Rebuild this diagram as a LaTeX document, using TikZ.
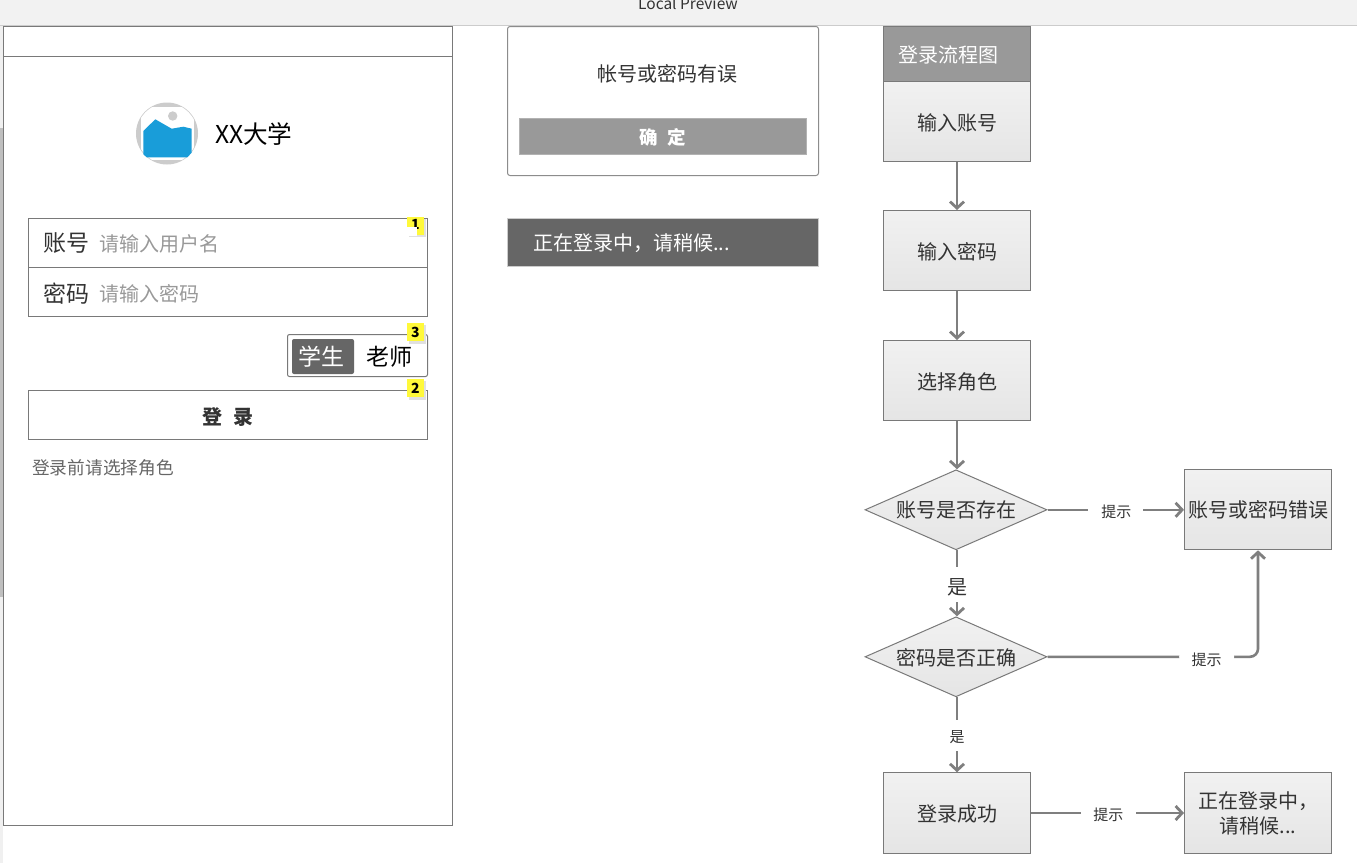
\documentclass[tikz,border=0pt]{standalone}
\usepackage{fontspec}
\setmainfont{Noto Sans CJK SC}
\usetikzlibrary{arrows.meta,shapes.geometric}
\definecolor{edgegray}{HTML}{797979}
\definecolor{linkgray}{HTML}{7F7F7F}
\definecolor{inktext}{HTML}{333333}
\definecolor{logoblue}{HTML}{199DD9}
\definecolor{badgeyellow}{HTML}{FFF93A}
\definecolor{shadetop}{HTML}{F1F1F1}
\definecolor{shadebot}{HTML}{E5E5E5}
\newcommand{\fs}[1]{\fontsize{#1pt}{#1pt}\selectfont}
\newcommand{\low}[2]{\raisebox{-#1pt}[\height][\depth]{#2}}
\tikzset{
  x=1pt,y=-1pt,
  frame/.style={draw=edgegray,line width=1pt,fill=white,inner sep=0pt},
  flowbox/.style={draw=edgegray,line width=1pt,top color=shadetop,bottom color=shadebot,minimum width=147pt,minimum height=80pt,inner sep=0pt,align=center,text=inktext,font=\fs{20}},
  decide/.style={diamond,aspect=2.275,draw=edgegray,line width=1pt,top color=shadetop,bottom color=shadebot,minimum width=182pt,minimum height=80pt,inner sep=0pt,text=inktext,font=\fs{20}},
  link/.style={draw=linkgray,line width=2.6pt,-{Straight Barb[length=6.5pt,width=14pt,line width=2.8pt]}},
  tag/.style={fill=white,inner sep=0pt,text=inktext,font=\fs{15}},
  badge/.style={fill=badgeyellow,minimum width=17pt,minimum height=18pt,inner sep=0pt,font=\fs{14}\bfseries,text=black},
  plain/.style={inner sep=0pt,text=inktext},
  hold/.style={inner sep=0pt,anchor=west,text=black!40,font=\fs{20}},
}
\begin{document}
\begin{tikzpicture}
\useasboundingbox (0,0) rectangle (1357,863);
\fill[white] (0,0) rectangle (1357,863);
% window bar
\fill[black!5] (0,0) rectangle (1357,25);
\draw[black!20,line width=1pt] (0,25.5) -- (1357,25.5);
\node[plain,font=\fs{15.5}] (preview) at (688,3.5) {Local Preview};
% scroll strip
\fill[black!6] (0,26) rectangle (3,863);
\fill[black!25] (0,128) rectangle (3,597);
% phone frame
\node[frame,minimum width=449pt,minimum height=799pt] (phone) at (228,426) {};
\node[frame,minimum width=449pt,minimum height=30pt] (phonebar) at (228,41.5) {};
% logo
\fill[black!20] (167,133.5) circle (31);
\begin{scope}
\clip (167,133.5) circle (30.3);
\fill[white] (140.5,107) rectangle (193.8,160);
\end{scope}
\fill[black!20] (172.7,116) circle (4.7);
\fill[logoblue] (143.3,131) -- (155.3,119.3) -- (171.7,128.7) -- (183.3,126.7) -- (191.7,128.7) -- (191.7,152.7) -- (187.3,157.3) -- (146.7,157.3) -- (143.3,154.3) -- cycle;
\node[plain,anchor=west,text=black,font=\fs{24.6}] (school) at (215,134.5) {XX大学};
% inputs
\node[frame,minimum width=399pt,minimum height=49.5pt] (userbox) at (228,243) {};
\node[frame,minimum width=399pt,minimum height=49pt] (passbox) at (228,292) {};
\node[plain,anchor=west,font=\fs{23}] (userlab) at (43,243.5) {账号};
\node[hold] (userhold) at (99,244) {请输入用户名};
\node[plain,anchor=west,font=\fs{23}] (passlab) at (43,293.5) {密码};
\node[hold] (passhold) at (99,294) {请输入密码};
% badge 1 sits under the input's white layer
\fill[black!12] (409,219) rectangle (426,237);
\node[badge] (b1) at (415.5,226) {\low{-1.5}{1}};
\fill[white] (400,227) rectangle (417,236);
% role switch
\node[frame,rounded corners=2pt,minimum width=140pt,minimum height=42pt] (switch) at (357.5,355.5) {};
\node[fill=black!60,rounded corners=2pt,minimum width=62pt,minimum height=35pt,inner sep=0pt,text=white,font=\fs{23}] (student) at (323,356.5) {\hspace{-4pt}学生};
\node[plain,text=black,font=\fs{23}] (teacher) at (389.5,356.5) {老师};
\fill[black!12] (409,325) rectangle (426,344);
\node[badge] (b3) at (415.5,332) {3};
% login button
\node[frame,minimum width=399pt,minimum height=49pt,text=inktext,font=\fs{20}\bfseries] (login) at (228,415) {\low{2}{登~\hspace{6.5pt}录}};
\fill[black!12] (409,381) rectangle (426,400);
\node[badge] (b2) at (415.5,388) {2};
\node[plain,anchor=west,text=black!60,font=\fs{17.7}] (hint) at (32,467.5) {登录前请选择角色};
% dialog
\node[frame,rounded corners=2.5pt,draw=black!45,minimum width=311pt,minimum height=149pt] (dialog) at (663,101) {};
\node[plain,font=\fs{20}] (dialogtext) at (667.5,74) {帐号或密码有误};
\node[fill=black!40,draw=black!30,line width=1pt,minimum width=287pt,minimum height=36.5pt,inner sep=0pt,text=white,font=\fs{18.5}\bfseries] (okbtn) at (663,136.3) {\low{1}{确~\hspace{5pt}定}};
% toast
\node[fill=black!60,draw=black!20,line width=1pt,minimum width=311pt,minimum height=48pt,inner sep=0pt] (toast) at (663,242) {};
\node[plain,anchor=west,text=white,font=\fs{20}] (toasttext) at (533,243.5) {正在登录中，请稍候...};
% flow title
\node[fill=black!40,draw=edgegray,line width=1pt,minimum width=147pt,minimum height=55pt,inner sep=0pt] (flowtitle) at (957,53.5) {};
\node[plain,anchor=west,text=white,font=\fs{20}] (flowtitletext) at (898,54.5) {登录流程图};
% flow
\node[flowbox] (n1) at (957,121.5) {\low{1.5}{输入账号}};
\node[flowbox] (n2) at (957,250.5) {\low{1}{输入密码}};
\node[flowbox] (n3) at (957,380.5) {\low{1}{选择角色}};
\node[decide] (d1) at (956,509.8) {\low{0.5}{账号是否存在}};
\node[decide] (d2) at (956,656.8) {\low{1}{密码是否正确}};
\node[flowbox,minimum height=80.5pt] (n4) at (957,813) {\low{1}{登录成功}};
\node[flowbox] (err) at (1258,509.8) {账号或密码错误};
\node[flowbox,minimum height=80.5pt] (wait) at (1258,813) {正在登录中，\\[5pt]请稍候...};
\draw[link] (n1) -- (n2);
\draw[link] (n2) -- (n3);
\draw[link] (n3) -- (n3 |- d1.north);
\draw[link] (n3 |- d1.south) -- node[tag,font=\fs{20},minimum width=10pt,minimum height=35pt,pos=.515] (yes1) {\low{3}{是}} (n3 |- d2.north);
\draw[link] (n3 |- d2.south) -- node[tag,minimum width=10pt,minimum height=31pt,pos=.51] (yes2) {\low{2}{是}} (n4);
\draw[link] (d1) -- node[tag,minimum width=55pt,minimum height=16pt,pos=.5] (hint1) {\low{1.5}{\hspace{1pt}提示}} (err);
\draw[link,rounded corners=8pt] (d2.east) -| node[tag,minimum width=55pt,minimum height=16pt,pos=.378] (hint2) {\low{2.5}{提示}} (err.south);
\draw[link] (n4) -- node[tag,minimum width=55pt,minimum height=16pt,pos=.505] (hint3) {\low{2}{提示}} (wait);
\end{tikzpicture}
\end{document}
